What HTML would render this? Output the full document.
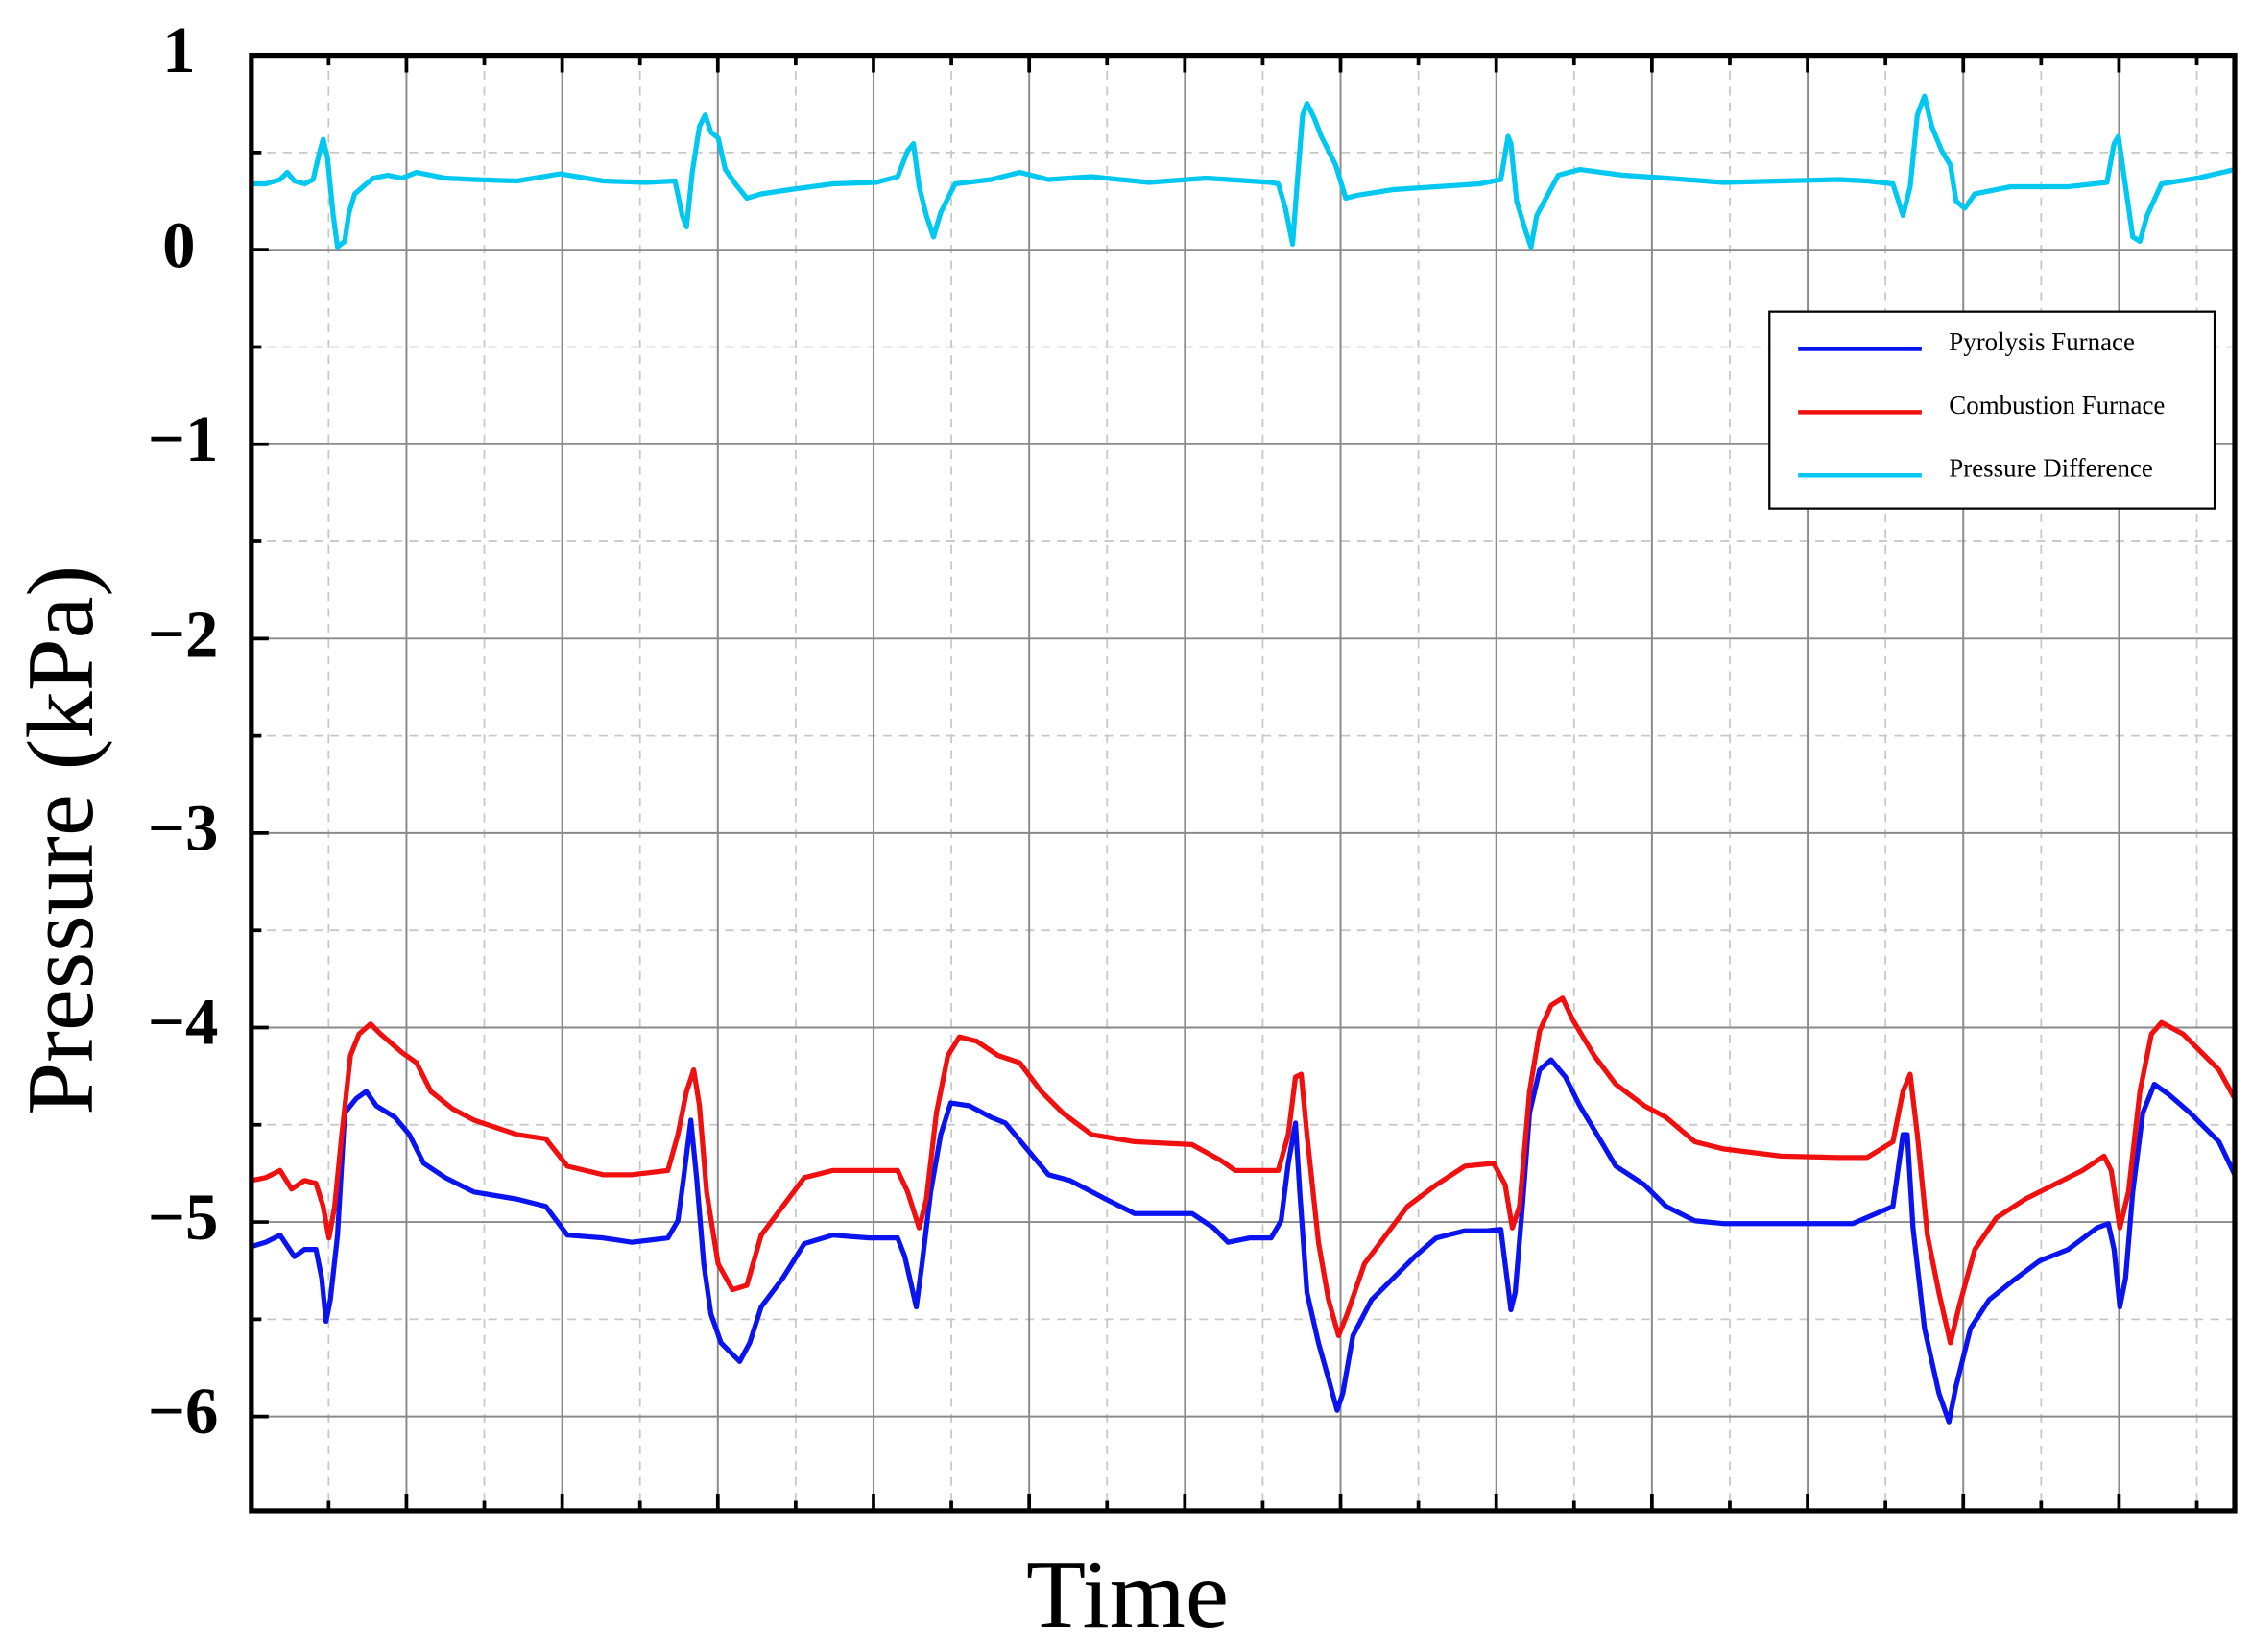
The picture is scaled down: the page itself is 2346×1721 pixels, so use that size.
<!DOCTYPE html>
<html><head><meta charset="utf-8"><style>html,body{margin:0;padding:0;background:#fff}svg{display:block}</style></head>
<body>
<svg width="2346" height="1721" viewBox="0 0 1568 1150.3" xmlns="http://www.w3.org/2000/svg" font-family="Liberation Serif, serif">
<rect width="1568" height="1151" fill="#fff"/>
<path fill="none" stroke="#c8c8c8" stroke-width="1.2" stroke-dasharray="6,5" d="M175 106.2H1556M175 241.6H1556M175 377H1556M175 512.4H1556M175 647.8H1556M175 783.2H1556M175 918.6H1556
M228.8 38.5V1052M337.2 38.5V1052M445.6 38.5V1052M554 38.5V1052M662.4 38.5V1052M770.8 38.5V1052M879.2 38.5V1052M987.6 38.5V1052M1096 38.5V1052M1204.4 38.5V1052M1312.8 38.5V1052M1421.2 38.5V1052M1529.6 38.5V1052"/>
<path fill="none" stroke="#8a8a8a" stroke-width="1.3" d="M175 173.9H1556M175 309.3H1556M175 444.7H1556M175 580.1H1556M175 715.5H1556M175 850.9H1556M175 986.3H1556
M283 38.5V1052M391.4 38.5V1052M499.8 38.5V1052M608.2 38.5V1052M716.6 38.5V1052M825 38.5V1052M933.4 38.5V1052M1041.8 38.5V1052M1150.2 38.5V1052M1258.6 38.5V1052M1367 38.5V1052M1475.4 38.5V1052"/>
<path fill="none" stroke="#000" stroke-width="2.5" d="M175 173.9h12M175 309.3h12M175 444.7h12M175 580.1h12M175 715.5h12M175 850.9h12M175 986.3h12
M175 106.2h7M175 241.6h7M175 377h7M175 512.4h7M175 647.8h7M175 783.2h7M175 918.6h7
M283 38.5v12M391.4 38.5v12M499.8 38.5v12M608.2 38.5v12M716.6 38.5v12M825 38.5v12M933.4 38.5v12M1041.8 38.5v12M1150.2 38.5v12M1258.6 38.5v12M1367 38.5v12M1475.4 38.5v12
M283 1052v-12M391.4 1052v-12M499.8 1052v-12M608.2 1052v-12M716.6 1052v-12M825 1052v-12M933.4 1052v-12M1041.8 1052v-12M1150.2 1052v-12M1258.6 1052v-12M1367 1052v-12M1475.4 1052v-12
M228.8 38.5v7M337.2 38.5v7M445.6 38.5v7M554 38.5v7M662.4 38.5v7M770.8 38.5v7M879.2 38.5v7M987.6 38.5v7M1096 38.5v7M1204.4 38.5v7M1312.8 38.5v7M1421.2 38.5v7M1529.6 38.5v7
M228.8 1052v-7M337.2 1052v-7M445.6 1052v-7M554 1052v-7M662.4 1052v-7M770.8 1052v-7M879.2 1052v-7M987.6 1052v-7M1096 1052v-7M1204.4 1052v-7M1312.8 1052v-7M1421.2 1052v-7M1529.6 1052v-7"/>
<polyline fill="none" stroke="#00c8f0" stroke-width="3.5" stroke-linejoin="round" points="175,128 185,128 195,125 200,120 205,126 212,128 218,125 222,108 225,97 228,110 232,150 235,172 240,168 243,148 247,135 255,128 260,124 270,122 280,124 290,120 300,122 310,124 330,125 360,126 390,121 420,126 450,127 470,126 475,150 478,158 482,120 487,88 491,80 495,92 500,96 505,118 512,128 520,138 530,135 550,132 580,128 610,127 625,123 632,105 636,100 640,130 645,150 650,165 655,148 665,128 690,125 710,120 730,125 760,123 800,127 840,124 870,126 885,127 890,128 895,145 900,170 903,130 907,80 910,72 915,82 920,95 930,115 937,138 945,136 970,132 1000,130 1030,128 1045,125 1050,95 1052,100 1056,140 1062,160 1066,172 1070,150 1078,135 1085,122 1100,118 1130,122 1160,124 1200,127 1240,126 1280,125 1300,126 1318,128 1325,150 1330,130 1335,80 1340,67 1345,88 1352,105 1358,115 1362,140 1368,145 1375,135 1400,130 1440,130 1467,127 1472,100 1475,95 1480,130 1485,165 1490,168 1495,150 1505,128 1530,124 1556,118"/>
<polyline fill="none" stroke="#0a14f0" stroke-width="3.5" stroke-linejoin="round" points="175,868 185,865 195,860 205,875 212,870 220,870 224,890 227,920 230,905 235,860 240,775 248,765 255,760 262,770 275,778 285,790 295,810 310,820 330,830 360,835 380,840 395,860 420,862 440,865 465,862 472,850 476,820 481,780 485,820 490,880 495,915 502,935 515,948 522,935 530,910 545,890 560,866 580,860 605,862 625,862 630,875 638,910 642,880 648,830 655,790 662,768 675,770 690,778 700,782 715,800 730,818 745,822 770,835 790,845 830,845 845,855 855,865 870,862 885,862 892,850 897,810 902,782 905,830 910,900 918,935 925,960 931,982 935,970 942,930 955,905 970,890 985,875 1000,862 1020,857 1035,857 1045,856 1048,880 1052,912 1055,900 1060,840 1065,775 1072,745 1080,738 1090,750 1100,770 1112,790 1125,812 1145,825 1160,840 1180,850 1200,852 1230,852 1260,852 1290,852 1318,840 1325,790 1328,790 1332,855 1340,925 1350,970 1357,990 1362,965 1372,925 1385,905 1400,893 1420,878 1440,870 1460,855 1468,852 1472,870 1476,910 1480,890 1485,830 1492,775 1500,755 1510,762 1525,775 1545,795 1556,818"/>
<polyline fill="none" stroke="#f01010" stroke-width="3.5" stroke-linejoin="round" points="175,822 185,820 195,815 203,828 212,822 220,824 225,840 229,862 233,840 238,790 244,735 250,720 258,713 265,720 280,733 290,740 300,760 315,772 330,780 345,785 360,790 380,793 395,812 420,818 440,818 465,815 472,790 478,760 483,745 487,770 492,830 500,880 510,898 520,895 530,860 545,840 560,820 580,815 610,815 625,815 632,830 640,855 645,835 652,775 660,735 668,722 680,725 695,735 710,740 725,760 740,775 760,790 790,795 830,797 850,808 860,815 890,815 897,790 902,750 906,748 910,790 918,865 925,905 932,930 938,915 950,880 965,860 980,840 1000,825 1020,812 1040,810 1048,825 1053,855 1058,840 1065,760 1072,718 1080,700 1088,695 1095,710 1110,735 1125,755 1145,770 1160,778 1180,795 1200,800 1240,805 1280,806 1300,806 1318,795 1325,760 1330,748 1335,790 1342,860 1350,900 1358,935 1364,910 1375,870 1390,848 1410,835 1430,825 1450,815 1465,805 1470,815 1476,855 1482,830 1490,760 1498,720 1505,712 1520,720 1535,735 1545,745 1556,765"/>
<rect x="175" y="38.5" width="1381" height="1013.5" fill="none" stroke="#000" stroke-width="3.5"/>
<rect x="1232" y="217" width="310" height="137" fill="#fff" stroke="#000" stroke-width="1.5"/>
<line x1="1252" y1="243" x2="1338" y2="243" stroke="#0a14f0" stroke-width="3"/>
<line x1="1252" y1="287" x2="1338" y2="287" stroke="#f01010" stroke-width="3"/>
<line x1="1252" y1="331" x2="1338" y2="331" stroke="#00c8f0" stroke-width="3"/>
<g font-size="18" fill="#000">
<text x="1357" y="244">Pyrolysis Furnace</text>
<text x="1357" y="288">Combustion Furnace</text>
<text x="1357" y="332">Pressure Difference</text>
</g>
<g font-size="46" font-weight="bold" text-anchor="end" fill="#000">
<text x="136" y="50">1</text>
<text x="136" y="186">0</text>
<text x="152" y="321">−1</text>
<text x="152" y="457">−2</text>
<text x="152" y="592">−3</text>
<text x="152" y="727">−4</text>
<text x="152" y="863">−5</text>
<text x="152" y="998">−6</text>
</g>
<text transform="translate(64,585) rotate(-90)" font-size="66" text-anchor="middle">Pressure (kPa)</text>
<text x="785" y="1133" font-size="68" text-anchor="middle">Time</text>
</svg>
</body></html>
